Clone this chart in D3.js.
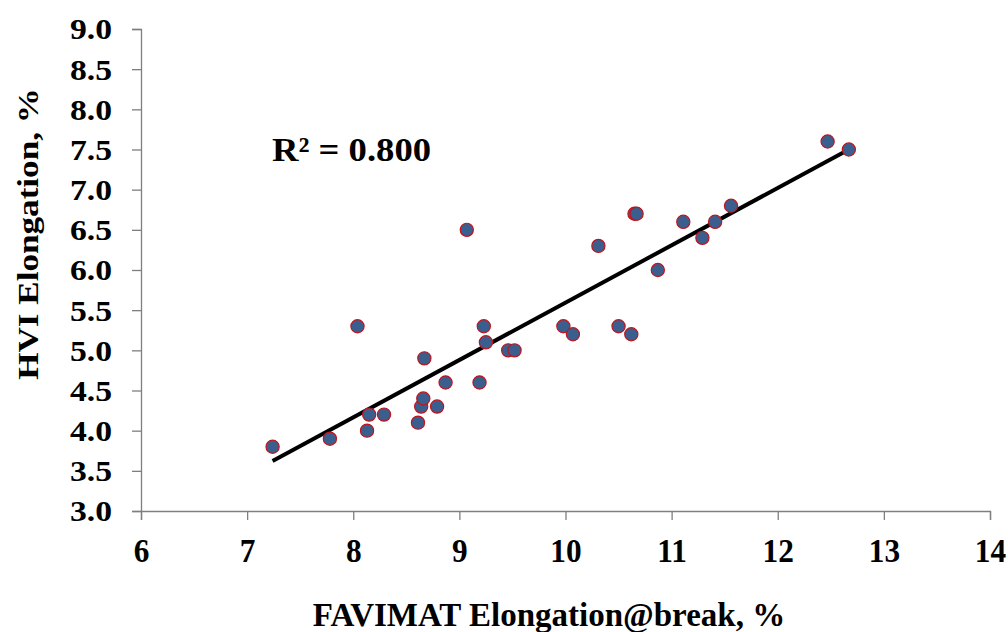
<!DOCTYPE html>
<html><head><meta charset="utf-8">
<script src="https://cdn.jsdelivr.net/npm/d3@7"></script>
<style>body{margin:0;background:#fff}svg{display:block}text{font-family:"Liberation Serif","Times New Roman",serif;font-weight:bold;fill:#000}</style>
</head><body>
<script>
const favimat = [7.24,7.78,8.04,8.13,8.15,8.29,8.61,8.64,8.66,8.67,8.79,8.87,9.19,9.23,9.25,9.46,9.52,
  9.07,10.31,10.87,10.65,10.67,11.11,9.98,10.07,10.50,10.62,11.41,11.29,11.56,12.47,12.67];
const hvi = [3.8,3.9,5.3,4.0,4.2,4.2,4.1,4.3,4.4,4.9,4.3,4.6,4.6,5.3,5.1,5.0,5.0,
  6.5,6.3,6.0,6.7,6.7,6.6,5.3,5.2,5.3,5.2,6.6,6.4,6.8,7.6,7.5];
const xTicks = [6,7,8,9,10,11,12,13,14];
const yTicks = [3.0,3.5,4.0,4.5,5.0,5.5,6.0,6.5,7.0,7.5,8.0,8.5,9.0];
const r2Label = "R² = 0.800";
const xTitle = "FAVIMAT Elongation@break, %";
const yTitle = "HVI Elongation, %";

const W = 1008, H = 632;
const svg = d3.select("body").append("svg").attr("width", W).attr("height", H);
const x = d3.scaleLinear().domain([6,14]).range([141,990]);
const y = d3.scaleLinear().domain([3,9]).range([511,29]);

function stretch(sel, f) {
  sel.each(function() {
    const L = this.getComputedTextLength();
    d3.select(this).attr("textLength", L * f).attr("lengthAdjust", "spacingAndGlyphs");
  });
}

const axisColor = "#7f7f7f";
const xa = svg.append("g").attr("transform", `translate(0,${y(3)})`)
  .call(d3.axisBottom(x).tickValues(xTicks).tickSize(9).tickPadding(18).tickFormat(d3.format("d")));
const ya = svg.append("g").attr("transform", `translate(${x(6)},0)`)
  .call(d3.axisLeft(y).tickValues(yTicks).tickSize(9).tickPadding(20).tickFormat(d3.format(".1f")));
[xa, ya].forEach(g => {
  g.selectAll("path").attr("stroke", axisColor).attr("stroke-width", 1.3);
  g.selectAll("line").attr("stroke", axisColor).attr("stroke-width", 1.3);
  g.selectAll("text").attr("font-family", '"Liberation Serif",serif').attr("font-weight", "bold").attr("fill", "#000");
});
xa.selectAll("text").attr("font-size", 34).attr("dy", "0.71em");
ya.selectAll("text").attr("font-size", 29).attr("dy", "0.34em");
stretch(xa.selectAll("text"), 0.92);
stretch(ya.selectAll("text"), 1.16);

// least-squares trend line
const n = favimat.length;
const mx = d3.mean(favimat), my = d3.mean(hvi);
let sxy = 0, sxx = 0;
for (let i = 0; i < n; i++) { sxy += (favimat[i]-mx)*(hvi[i]-my); sxx += (favimat[i]-mx)**2; }
const b = sxy / sxx, a = my - b*mx;
const [x0, x1] = d3.extent(favimat);
svg.append("line")
  .attr("x1", x(x0)).attr("y1", y(a + b*x0))
  .attr("x2", x(x1)).attr("y2", y(a + b*x1))
  .attr("stroke", "#000").attr("stroke-width", 4);

svg.append("g").selectAll("circle").data(favimat).join("circle")
  .attr("cx", d => x(d)).attr("cy", (d,i) => y(hvi[i])).attr("r", 6.6)
  .attr("fill", "#3a5f8f").attr("stroke", "#c0141c").attr("stroke-width", 1.2);

const r2 = svg.append("text").attr("x", 272).attr("y", 161).attr("font-size", 33).text(r2Label);
stretch(r2, 1.11);

svg.append("text").attr("x", 549).attr("y", 626).attr("text-anchor", "middle")
  .attr("font-size", 33).text(xTitle);
const yt = svg.append("text").attr("transform", `translate(38,234) rotate(-90)`)
  .attr("text-anchor", "middle").attr("font-size", 30).text(yTitle);
stretch(yt, 1.17);
</script>
</body></html>
